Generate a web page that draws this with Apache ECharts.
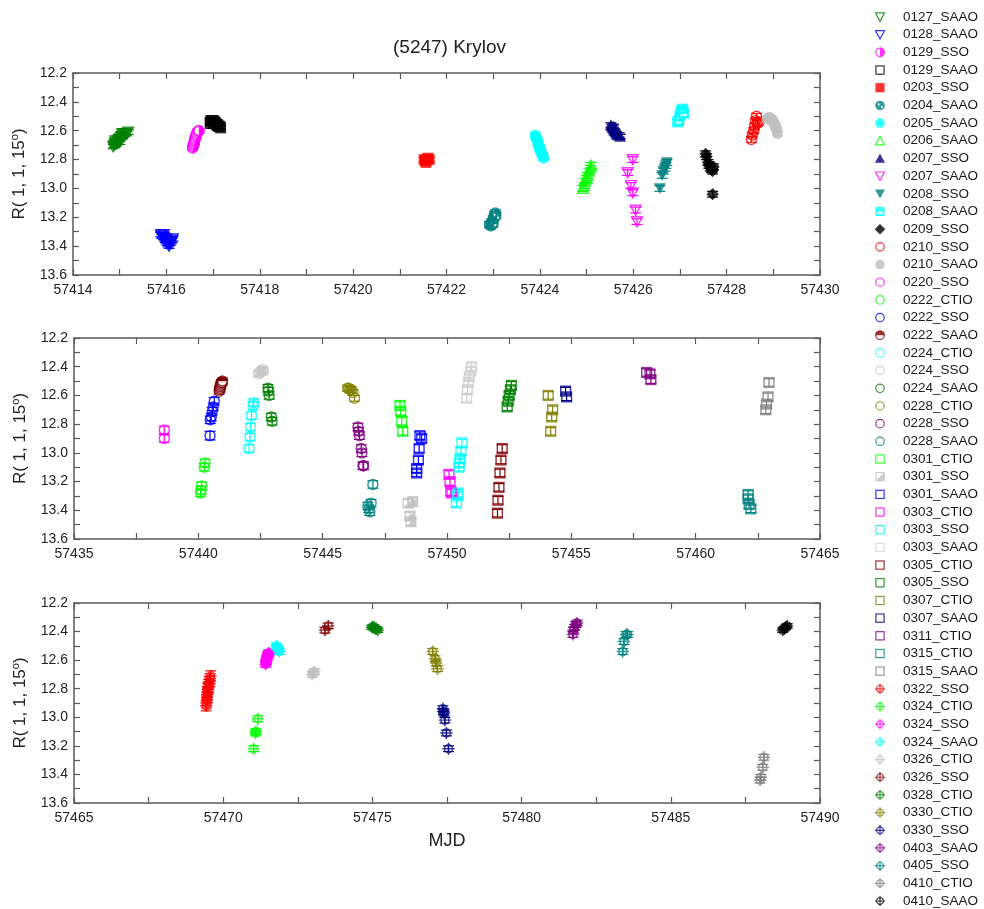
<!DOCTYPE html>
<html>
<head>
<meta charset="utf-8">
<title>(5247) Krylov</title>
<script src="https://cdn.jsdelivr.net/npm/echarts@6/dist/echarts.min.js"></script>
<style>
html, body { margin: 0; padding: 0; background: #fff; }
#chart { width: 984px; height: 909px; }
</style>
</head>
<body>
<div id="chart"></div>
<script>
// 每个观测段：[MJD, R星等, 误差]
var s0127_SAAO = [[57414.86,12.71,0.015],[57414.88,12.70,0.015],[57414.90,12.69,0.015],[57414.90,12.67,0.015],[57414.92,12.69,0.015],[57414.94,12.68,0.015],[57414.96,12.67,0.015],[57414.98,12.66,0.015],[57415.00,12.66,0.015],[57415.00,12.68,0.015],[57415.02,12.65,0.015],[57415.04,12.64,0.015],[57415.05,12.62,0.015],[57415.06,12.64,0.015],[57415.08,12.63,0.015],[57415.10,12.62,0.015],[57415.12,12.62,0.015],[57415.15,12.62,0.015],[57415.18,12.61,0.015]];
var s0128_SAAO = [[57415.88,13.32,0.015],[57415.90,13.33,0.015],[57415.92,13.33,0.015],[57415.94,13.34,0.015],[57415.95,13.32,0.015],[57415.96,13.35,0.015],[57415.98,13.36,0.015],[57416.00,13.35,0.015],[57416.00,13.37,0.015],[57416.02,13.38,0.015],[57416.04,13.39,0.015],[57416.06,13.40,0.015],[57416.08,13.38,0.015],[57416.10,13.37,0.015],[57416.12,13.36,0.015],[57416.14,13.35,0.015]];
var s0129_SSO = [[57416.56,12.72,0.015],[57416.57,12.71,0.015],[57416.58,12.70,0.015],[57416.59,12.69,0.015],[57416.60,12.68,0.015],[57416.60,12.67,0.015],[57416.61,12.66,0.015],[57416.62,12.65,0.015],[57416.63,12.64,0.015],[57416.64,12.63,0.015],[57416.65,12.62,0.015],[57416.67,12.61,0.015],[57416.68,12.60,0.015],[57416.70,12.60,0.015]];
var s0129_SAAO = [[57416.94,12.54,0.015],[57416.96,12.53,0.015],[57416.98,12.53,0.015],[57417.00,12.53,0.015],[57417.00,12.55,0.015],[57417.02,12.54,0.015],[57417.04,12.54,0.015],[57417.06,12.55,0.015],[57417.08,12.56,0.015],[57417.10,12.56,0.015],[57417.12,12.57,0.015],[57417.14,12.57,0.015],[57417.16,12.58,0.015],[57416.95,12.55,0.015]];
var s0203_SSO = [[57421.52,12.80,0.015],[57421.55,12.81,0.015],[57421.56,12.82,0.015],[57421.58,12.80,0.015],[57421.60,12.79,0.015],[57421.63,12.80,0.015]];
var s0204_SAAO = [[57422.92,13.25,0.02],[57422.95,13.26,0.02],[57422.97,13.23,0.02],[57422.98,13.25,0.02],[57423.00,13.24,0.02],[57423.00,13.21,0.02],[57423.02,13.20,0.02],[57423.03,13.18,0.02],[57423.05,13.17,0.02],[57423.06,13.19,0.02]];
var s0205_SAAO = [[57423.90,12.63,0.015],[57423.92,12.65,0.015],[57423.94,12.66,0.015],[57423.96,12.68,0.015],[57423.97,12.70,0.015],[57423.99,12.71,0.015],[57424.00,12.73,0.015],[57424.02,12.74,0.015],[57424.04,12.76,0.015],[57424.06,12.77,0.015],[57424.08,12.79,0.015]];
var s0206_SAAO = [[57424.92,13.00,0.02],[57424.95,12.98,0.02],[57424.97,12.95,0.02],[57425.00,12.93,0.02],[57425.02,12.91,0.02],[57425.05,12.88,0.02],[57425.08,12.86,0.02],[57425.10,12.84,0.02]];
var s0207_SSO = [[57425.52,12.56,0.015],[57425.54,12.57,0.015],[57425.56,12.58,0.015],[57425.58,12.57,0.015],[57425.58,12.59,0.015],[57425.60,12.60,0.015],[57425.62,12.61,0.015],[57425.64,12.62,0.015],[57425.66,12.63,0.015],[57425.70,12.63,0.015],[57425.72,12.64,0.015]];
var s0207_SAAO = [[57425.99,12.80,0.02],[57425.88,12.89,0.02],[57425.95,12.98,0.02],[57425.99,13.03,0.02],[57426.05,13.15,0.02],[57426.08,13.23,0.02]];
var s0208_SSO = [[57426.57,13.00,0.02],[57426.62,12.91,0.02],[57426.65,12.88,0.02],[57426.68,12.86,0.02],[57426.70,12.84,0.02],[57426.72,12.82,0.02]];
var s0208_SAAO = [[57426.95,12.54,0.02],[57426.97,12.53,0.02],[57427.00,12.50,0.02],[57427.02,12.47,0.02],[57427.04,12.46,0.02],[57427.06,12.45,0.02],[57427.08,12.48,0.02]];
var s0209_SSO = [[57427.55,12.76,0.02],[57427.57,12.78,0.02],[57427.60,12.82,0.02],[57427.62,12.84,0.02],[57427.65,12.86,0.02],[57427.68,12.87,0.02],[57427.70,12.88,0.02],[57427.72,12.85,0.02],[57427.70,13.04,0.02]];
var s0210_SSO = [[57428.53,12.66,0.02],[57428.55,12.63,0.02],[57428.58,12.60,0.02],[57428.60,12.57,0.02],[57428.62,12.53,0.02],[57428.64,12.50,0.02],[57428.66,12.55,0.02],[57428.68,12.54,0.02]];
var s0210_SAAO = [[57428.87,12.52,0.015],[57428.90,12.51,0.015],[57428.93,12.51,0.015],[57428.96,12.52,0.015],[57428.99,12.53,0.015],[57429.02,12.55,0.015],[57429.05,12.57,0.015],[57429.07,12.59,0.015],[57429.09,12.62,0.015]];

var s0220_SSO = [[57438.63,12.84,0.026],[57438.63,12.90,0.026]];
var s0222_CTIO = [[57440.09,13.28,0.026],[57440.11,13.26,0.026],[57440.13,13.23,0.026],[57440.24,13.10,0.026],[57440.27,13.07,0.026]];
var s0222_SSO = [[57440.47,12.88,0.03],[57440.48,12.77,0.026],[57440.52,12.75,0.026],[57440.56,12.71,0.026],[57440.60,12.68,0.026],[57440.64,12.64,0.026]];
var s0222_SAAO = [[57440.84,12.57,0.02],[57440.86,12.56,0.02],[57440.87,12.55,0.02],[57440.88,12.54,0.02],[57440.90,12.53,0.02],[57440.91,12.52,0.02],[57440.93,12.51,0.02],[57440.95,12.51,0.02],[57440.97,12.50,0.02]];
var s0224_CTIO = [[57442.04,12.97,0.026],[57442.08,12.89,0.026],[57442.10,12.82,0.026],[57442.14,12.74,0.026],[57442.20,12.67,0.026],[57442.23,12.65,0.026]];
var s0224_SSO = [[57442.42,12.45,0.02],[57442.48,12.44,0.02],[57442.52,12.43,0.02],[57442.58,12.42,0.02],[57442.62,12.43,0.02]];
var s0224_SAAO = [[57442.80,12.55,0.026],[57442.82,12.57,0.026],[57442.85,12.60,0.026],[57442.93,12.75,0.026],[57442.97,12.78,0.026]];
var s0228_CTIO = [[57446.00,12.55,0.02],[57446.05,12.55,0.02],[57446.10,12.56,0.02],[57446.15,12.56,0.02],[57446.22,12.58,0.02],[57446.28,12.62,0.02]];
var s0228_SSO = [[57446.42,12.82,0.026],[57446.45,12.85,0.026],[57446.48,12.88,0.026],[57446.55,12.97,0.026],[57446.58,13.00,0.026],[57446.62,13.09,0.026],[57446.65,13.09,0.026]];
var s0228_SAAO = [[57446.82,13.37,0.026],[57446.86,13.39,0.026],[57446.90,13.41,0.026],[57446.95,13.35,0.026],[57447.02,13.22,0.026]];
var s0301_CTIO = [[57448.11,12.67,0.026],[57448.14,12.71,0.026],[57448.18,12.78,0.026],[57448.22,12.85,0.026]];
var s0301_SSO = [[57448.44,13.35,0.026],[57448.62,13.34,0.026],[57448.51,13.44,0.026],[57448.55,13.48,0.026]];
var s0301_SAAO = [[57448.91,12.88,0.026],[57448.98,12.90,0.026],[57448.88,12.97,0.026],[57448.85,13.05,0.026],[57448.78,13.11,0.026],[57448.78,13.14,0.026]];
var s0303_CTIO = [[57450.08,13.15,0.026],[57450.12,13.20,0.026],[57450.15,13.27,0.026],[57450.20,13.28,0.026]];
var s0303_SSO = [[57450.38,13.35,0.026],[57450.42,13.30,0.026],[57450.45,13.28,0.026],[57450.48,13.10,0.026],[57450.50,13.07,0.026],[57450.53,13.04,0.026],[57450.56,12.99,0.026],[57450.60,12.93,0.026]];
var s0303_SAAO = [[57450.79,12.62,0.026],[57450.82,12.56,0.026],[57450.86,12.51,0.026],[57450.90,12.47,0.026],[57450.95,12.43,0.026],[57450.99,12.40,0.026]];
var s0305_CTIO = [[57452.03,13.42,0.026],[57452.05,13.33,0.026],[57452.09,13.24,0.026],[57452.13,13.14,0.026],[57452.17,13.05,0.026],[57452.22,12.97,0.026]];
var s0305_SSO = [[57452.42,12.68,0.026],[57452.46,12.64,0.026],[57452.50,12.60,0.026],[57452.55,12.56,0.026],[57452.59,12.53,0.026]];
var s0307_CTIO = [[57454.07,12.60,0.026],[57454.25,12.70,0.026],[57454.21,12.75,0.026],[57454.17,12.85,0.026]];
var s0307_SAAO = [[57454.77,12.57,0.026],[57454.81,12.61,0.026]];
var s0311_CTIO = [[57458.03,12.44,0.026],[57458.16,12.45,0.026],[57458.20,12.49,0.026]];
var s0315_CTIO = [[57462.11,13.29,0.026],[57462.11,13.32,0.026],[57462.15,13.36,0.026],[57462.22,13.39,0.026]];
var s0315_SAAO = [[57462.82,12.70,0.026],[57462.85,12.66,0.026],[57462.91,12.61,0.026],[57462.95,12.51,0.026]];

var s0322_SSO = [[57469.43,12.92,0.035],[57469.44,12.90,0.035],[57469.45,12.88,0.035],[57469.46,12.86,0.035],[57469.47,12.84,0.035],[57469.48,12.82,0.035],[57469.49,12.80,0.035],[57469.50,12.79,0.035],[57469.52,12.77,0.035],[57469.54,12.75,0.035],[57469.56,12.73,0.035],[57469.58,12.71,0.035]];
var s0324_CTIO = [[57471.16,13.01,0.02],[57471.10,13.10,0.02],[57471.08,13.11,0.02],[57471.02,13.22,0.02]];
var s0324_SSO = [[57471.42,12.63,0.02],[57471.43,12.62,0.02],[57471.44,12.61,0.02],[57471.45,12.60,0.02],[57471.46,12.59,0.02],[57471.47,12.58,0.02],[57471.49,12.57,0.02],[57471.50,12.56,0.02],[57471.52,12.55,0.02],[57471.54,12.55,0.02]];
var s0324_SAAO = [[57471.78,12.50,0.02],[57471.80,12.51,0.02],[57471.82,12.52,0.02],[57471.84,12.52,0.02],[57471.86,12.53,0.02],[57471.88,12.54,0.02]];
var s0326_CTIO = [[57472.98,12.70,0.02],[57473.02,12.69,0.02],[57473.06,12.68,0.02]];
var s0326_SSO = [[57473.41,12.39,0.02],[57473.52,12.36,0.02]];
var s0328_CTIO = [[57474.98,12.37,0.015],[57475.02,12.37,0.015],[57475.06,12.37,0.015],[57475.10,12.38,0.015],[57475.14,12.38,0.015],[57475.18,12.39,0.015]];
var s0330_CTIO = [[57477.02,12.54,0.02],[57477.10,12.59,0.02],[57477.14,12.62,0.02],[57477.18,12.66,0.02]];
var s0330_SSO = [[57477.36,12.94,0.02],[57477.38,12.96,0.02],[57477.40,12.97,0.02],[57477.43,13.02,0.02],[57477.48,13.11,0.02],[57477.55,13.22,0.02]];
var s0403_SAAO = [[57481.72,12.42,0.02],[57481.74,12.39,0.02],[57481.78,12.37,0.02],[57481.82,12.35,0.02],[57481.86,12.34,0.02]];
var s0405_SSO = [[57483.39,12.54,0.02],[57483.43,12.47,0.02],[57483.50,12.42,0.02],[57483.55,12.42,0.02]];
var s0410_CTIO = [[57487.99,13.44,0.02],[57488.02,13.42,0.02],[57488.08,13.35,0.02],[57488.12,13.28,0.02]];
var s0410_SAAO = [[57488.75,12.39,0.015],[57488.80,12.38,0.015],[57488.85,12.37,0.015],[57488.90,12.36,0.015]];

// 观测段名称与数据（图例顺序）
var sessions = [
    ['0127_SAAO', s0127_SAAO], ['0128_SAAO', s0128_SAAO], ['0129_SSO', s0129_SSO], ['0129_SAAO', s0129_SAAO],
    ['0203_SSO', s0203_SSO], ['0204_SAAO', s0204_SAAO], ['0205_SAAO', s0205_SAAO], ['0206_SAAO', s0206_SAAO],
    ['0207_SSO', s0207_SSO], ['0207_SAAO', s0207_SAAO], ['0208_SSO', s0208_SSO], ['0208_SAAO', s0208_SAAO],
    ['0209_SSO', s0209_SSO], ['0210_SSO', s0210_SSO], ['0210_SAAO', s0210_SAAO], ['0220_SSO', s0220_SSO],
    ['0222_CTIO', s0222_CTIO], ['0222_SSO', s0222_SSO], ['0222_SAAO', s0222_SAAO], ['0224_CTIO', s0224_CTIO],
    ['0224_SSO', s0224_SSO], ['0224_SAAO', s0224_SAAO], ['0228_CTIO', s0228_CTIO], ['0228_SSO', s0228_SSO],
    ['0228_SAAO', s0228_SAAO], ['0301_CTIO', s0301_CTIO], ['0301_SSO', s0301_SSO], ['0301_SAAO', s0301_SAAO],
    ['0303_CTIO', s0303_CTIO], ['0303_SSO', s0303_SSO], ['0303_SAAO', s0303_SAAO], ['0305_CTIO', s0305_CTIO],
    ['0305_SSO', s0305_SSO], ['0307_CTIO', s0307_CTIO], ['0307_SAAO', s0307_SAAO], ['0311_CTIO', s0311_CTIO],
    ['0315_CTIO', s0315_CTIO], ['0315_SAAO', s0315_SAAO], ['0322_SSO', s0322_SSO], ['0324_CTIO', s0324_CTIO],
    ['0324_SSO', s0324_SSO], ['0324_SAAO', s0324_SAAO], ['0326_CTIO', s0326_CTIO], ['0326_SSO', s0326_SSO],
    ['0328_CTIO', s0328_CTIO], ['0330_CTIO', s0330_CTIO], ['0330_SSO', s0330_SSO], ['0403_SAAO', s0403_SAAO],
    ['0405_SSO', s0405_SSO], ['0410_CTIO', s0410_CTIO], ['0410_SAAO', s0410_SAAO]
];

// 三个面板的横轴范围与刻度
var xRanges = [[57414, 57430, 2], [57435, 57465, 5], [57465, 57490, 5]];
var yRange = [12.2, 13.6, 0.2];

// 符号样式：形状, 颜色
var looks = {
    '0127_SAAO': ['tridown', '#008000'], '0128_SAAO': ['tridown', '#0000ff'], '0129_SSO': ['halfR', '#ff00ff'],
    '0129_SAAO': ['square', '#000000'], '0203_SSO': ['squareF', '#ff0000'], '0204_SAAO': ['ball', '#008080'],
    '0205_SAAO': ['circleF', '#00ffff'], '0206_SAAO': ['triup', '#00ff00'], '0207_SSO': ['triupF', '#000080'],
    '0207_SAAO': ['tridown', '#ff00ff'], '0208_SSO': ['tridownF', '#008080'], '0208_SAAO': ['barSq', '#00ffff'],
    '0209_SSO': ['diamondF', '#000000'], '0210_SSO': ['circle', '#ff0000'], '0210_SAAO': ['circleF', '#c0c0c0'],
    '0220_SSO': ['circle', '#ff00ff'], '0222_CTIO': ['circle', '#00ff00'], '0222_SSO': ['circle', '#0000ff'],
    '0222_SAAO': ['halfT', '#800000'], '0224_CTIO': ['circle', '#00ffff'], '0224_SSO': ['circle', '#c8c8c8'],
    '0224_SAAO': ['circle', '#008000'], '0228_CTIO': ['circle', '#808000'], '0228_SSO': ['circle', '#800080'],
    '0228_SAAO': ['circle', '#008080'], '0301_CTIO': ['square', '#00ff00'], '0301_SSO': ['diagSq', '#c0c0c0'],
    '0301_SAAO': ['square', '#0000ff'], '0303_CTIO': ['square', '#ff00ff'], '0303_SSO': ['square', '#00ffff'],
    '0303_SAAO': ['square', '#d0d0d0'], '0305_CTIO': ['square', '#800000'], '0305_SSO': ['square', '#008000'],
    '0307_CTIO': ['square', '#808000'], '0307_SAAO': ['square', '#000080'], '0311_CTIO': ['square', '#800080'],
    '0315_CTIO': ['square', '#008080'], '0315_SAAO': ['square', '#808080'], '0322_SSO': ['cross', '#ff0000'],
    '0324_CTIO': ['cross', '#00ff00'], '0324_SSO': ['cross', '#ff00ff'], '0324_SAAO': ['cross', '#00ffff'],
    '0326_CTIO': ['cross', '#c0c0c0'], '0326_SSO': ['cross', '#800000'], '0328_CTIO': ['cross', '#008000'],
    '0330_CTIO': ['cross', '#808000'], '0330_SSO': ['cross', '#000080'], '0403_SAAO': ['cross', '#800080'],
    '0405_SSO': ['cross', '#008080'], '0410_CTIO': ['cross', '#808080'], '0410_SAAO': ['cross', '#000000']
};

var FONT = '"Liberation Sans", Arial, sans-serif';
var AXIS_COLOR = '#5a5a5a';

// 用 SVG 画符号，图例和散点共用
function symbolUrl(shape, c) {
    var line = ' fill="none" stroke="' + c + '" stroke-width="1.3"';
    var fill = ' fill="' + c + '"';
    var body = {
        tridown: '<polygon points="1,1.5 11,1.5 6,10.8"' + line + '/>',
        tridownF: '<polygon points="0.5,1.2 11.5,1.2 6,11.2"' + fill + '/>',
        triup: '<polygon points="6,1.2 11,10.5 1,10.5"' + line + '/>',
        triupF: '<polygon points="6,0.8 11.5,10.8 0.5,10.8"' + fill + '/>',
        square: '<rect x="1.5" y="1.5" width="9" height="9"' + line + '/>',
        squareF: '<rect x="1" y="1" width="10" height="10"' + fill + '/>',
        circle: '<circle cx="6" cy="6" r="4.6"' + line + '/>',
        circleF: '<circle cx="6" cy="6" r="5.2"' + fill + '/>',
        diamondF: '<polygon points="6,0.3 11.7,6 6,11.7 0.3,6"' + fill + '/>',
        halfR: '<circle cx="6" cy="6" r="4.6" fill="#fff" stroke="' + c + '" stroke-width="1.3"/><path d="M6,0.8 A5.2,5.2 0 0 1 6,11.2 Z"' + fill + '/>',
        halfT: '<circle cx="6" cy="6" r="4.6" fill="#fff" stroke="' + c + '" stroke-width="1.3"/><path d="M0.8,6 A5.2,5.2 0 0 1 11.2,6 Z"' + fill + '/>',
        ball: '<circle cx="6" cy="6" r="5.2"' + fill + '/><path d="M3.5,3.5 L6,4.5 L4.5,7 Z" fill="#fff"/><circle cx="8" cy="7.8" r="1.2" fill="#fff"/>',
        barSq: '<rect x="1" y="1" width="10" height="10"' + fill + '/><rect x="3" y="6.3" width="6" height="2.2" fill="#fff"/>',
        diagSq: '<rect x="1.5" y="1.5" width="9" height="9"' + line + '/><polygon points="10.5,1.5 10.5,10.5 1.5,10.5"' + fill + '/>',
        cross: '<circle cx="6" cy="6" r="3.7"' + line + '/><path d="M0.3,6 H11.7 M6,0.3 V11.7"' + line + '/>'
    }[shape];
    var svg = '<svg xmlns="http://www.w3.org/2000/svg" width="12" height="12" viewBox="0 0 12 12">' + body + '</svg>';
    return 'image://data:image/svg+xml;charset=utf-8,' + encodeURIComponent(svg);
}

function panelOf(data) {
    var x = data[0][0];
    for (var i = 0; i < xRanges.length; i++) {
        if (x >= xRanges[i][0] && x < xRanges[i][1]) return i;
    }
    return 2;
}

// 误差棒
function drawErr(params, api) {
    var x = api.value(0), y = api.value(1), e = api.value(2);
    var a = api.coord([x, y - e]);
    var b = api.coord([x, y + e]);
    var hw = 5.5;
    var st = { stroke: api.visual('color'), lineWidth: 1.2 };
    return {
        type: 'group',
        children: [
            { type: 'line', shape: { x1: a[0], y1: a[1], x2: b[0], y2: b[1] }, style: st },
            { type: 'line', shape: { x1: a[0] - hw, y1: a[1], x2: a[0] + hw, y2: a[1] }, style: st },
            { type: 'line', shape: { x1: b[0] - hw, y1: b[1], x2: b[0] + hw, y2: b[1] }, style: st }
        ]
    };
}

var grids = [
    { left: 73, top: 73, width: 747, height: 202 },
    { left: 74, top: 338, width: 746, height: 201 },
    { left: 74, top: 603, width: 746, height: 200 }
];

var xAxes = [], yAxes = [];
grids.forEach(function (g, gi) {
    var r = xRanges[gi];
    ['bottom', 'top'].forEach(function (pos) {
        xAxes.push({
            type: 'value', gridIndex: gi, position: pos,
            min: r[0], max: r[1], interval: r[2],
            name: (gi === 2 && pos === 'bottom') ? 'MJD' : '',
            nameLocation: 'middle', nameGap: 29,
            nameTextStyle: { fontSize: 18, color: '#222', fontFamily: FONT },
            axisLine: { show: true, onZero: false, lineStyle: { color: AXIS_COLOR, width: 1.5 } },
            axisTick: { show: true, inside: true, length: 6, lineStyle: { color: AXIS_COLOR, width: 1.2 } },
            minorTick: { show: true, splitNumber: 2, length: 6, lineStyle: { color: AXIS_COLOR, width: 1.2 } },
            axisLabel: { show: pos === 'bottom', margin: 8, fontSize: 14, color: '#222', fontFamily: FONT,
                showMinLabel: true, showMaxLabel: true,
                formatter: function (v) { return String(Math.round(v)); } },
            splitLine: { show: false }
        });
    });
    ['left', 'right'].forEach(function (pos) {
        yAxes.push({
            type: 'value', gridIndex: gi, position: pos, inverse: true,
            min: yRange[0], max: yRange[1], interval: yRange[2],
            name: pos === 'left' ? '{a|R( 1, 1, 15}{b|o}{a|)}' : '',
            nameLocation: 'middle', nameRotate: 90, nameGap: 44,
            nameTextStyle: {
                rich: {
                    a: { fontSize: 17, color: '#222', fontFamily: FONT },
                    b: { fontSize: 11, color: '#222', fontFamily: FONT, padding: [0, 0, 9, 0] }
                }
            },
            axisLine: { show: true, onZero: false, lineStyle: { color: AXIS_COLOR, width: 1.5 } },
            axisTick: { show: true, inside: true, length: 6, lineStyle: { color: AXIS_COLOR, width: 1.2 } },
            minorTick: { show: true, splitNumber: 2, length: 6, lineStyle: { color: AXIS_COLOR, width: 1.2 } },
            axisLabel: { show: pos === 'left', margin: 6, fontSize: 14, color: '#222', fontFamily: FONT,
                formatter: function (v) { return v.toFixed(1); } },
            splitLine: { show: false }
        });
    });
});

var scatterSeries = [], errSeries = [], legendData = [];
sessions.forEach(function (s) {
    var name = s[0], data = s[1];
    var look = looks[name];
    var gi = panelOf(data);
    var icon = symbolUrl(look[0], look[1]);
    legendData.push({ name: name, icon: icon });
    scatterSeries.push({
        type: 'scatter', name: name, data: data,
        xAxisIndex: gi * 2, yAxisIndex: gi * 2,
        symbol: icon, symbolSize: 13, symbolKeepAspect: true,
        itemStyle: { color: look[1] },
        z: 3, silent: true
    });
    errSeries.push({
        type: 'custom', name: name, data: data,
        xAxisIndex: gi * 2, yAxisIndex: gi * 2,
        encode: { x: 0, y: 1 },
        itemStyle: { color: look[1] },
        renderItem: drawErr, z: 2, silent: true
    });
});

var myChart = echarts.init(document.getElementById('chart'));
var option = {
    backgroundColor: '#ffffff',
    animation: false,
    textStyle: { fontFamily: FONT },
    title: {
        text: '(5247) Krylov',
        left: 393, top: 38, padding: 0,
        textStyle: { fontSize: 19, fontWeight: 'normal', color: '#222', fontFamily: FONT }
    },
    legend: {
        orient: 'vertical',
        left: 862, top: 10, height: 899, padding: 0,
        itemWidth: 36, itemHeight: 11, itemGap: 3.68,
        textStyle: { fontSize: 13.5, lineHeight: 14, color: '#1a1a1a', fontFamily: FONT },
        data: legendData
    },
    grid: grids,
    xAxis: xAxes,
    yAxis: yAxes,
    series: scatterSeries.concat(errSeries)
};
myChart.setOption(option);
</script>
</body>
</html>
